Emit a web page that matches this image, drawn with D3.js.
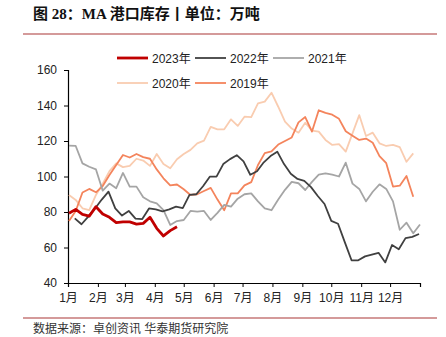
<!DOCTYPE html>
<html><head><meta charset="utf-8">
<script src="https://cdn.jsdelivr.net/npm/d3@7"></script>
<style>
html,body{margin:0;padding:0;background:#fff;}
svg{display:block;}
</style></head>
<body>
<svg id="c" width="446" height="337"></svg>
<script>
// ---- data ----
const seriesNames = ["2023年","2022年","2021年","2020年","2019年"];
const startDays = [1, 7, 1, 1, 1]; // day offset of first weekly observation
const v2023 = [79.3,81.5,78.7,77.7,83,78.9,77,74,74.4,74.4,73.2,73.6,77,70.8,66.5,69.5,71.7];
const v2022 = [76.4,73.1,77.4,82,87,91.5,82,78,80.6,76.3,76,82,81.5,80.4,81.5,83,82.2,89.6,90,94.5,99.9,99.9,107,109.8,112,108.5,101,103,108,111.5,114,107,101.5,98.6,97.5,94,89,84.5,75,73.4,63,52.8,52.8,55,56,57,51.6,61.4,59,65.3,66,67.6];
const v2021 = [117.4,117.2,107.4,105.5,104,92,96,93.4,102,94.3,94.3,88.3,86,84.9,81,72.7,74.9,75.5,80.6,80.2,80.6,75.5,79.5,84,83,87.5,90,90.5,86,82,81,87,92.5,97,96.2,92.4,97,101,101.8,101,100,107.8,96,93,86,91.4,95.6,93,86,70,74,68,73];
const v2020 = [89.6,86.8,82.1,81.1,89.6,96,103,107.4,105.3,106,110,109,106,112.7,107,104.6,109.7,112.7,115,118.7,120.2,128,126.6,126.6,132.2,128.5,133.7,133.4,141.2,142.2,147.2,139.3,130.9,127,124.7,130.3,125.8,125.3,120.6,117.8,118.2,114,124.3,134.6,122.8,124.7,118.7,117.2,117.8,116.5,108.3,113];
const v2019 = [74.9,80.6,91,93,91.1,94.6,100.8,106.5,112.1,110.7,112.7,110.9,110,104,99,95,95.5,92.8,89.6,90,91.8,93.6,87,81,90.5,90.5,95,96.8,106.5,113.2,114.2,118,120,122,130.5,133.5,125.3,137.3,135.8,134.8,132.5,125.5,123,120.6,121.4,119,111.5,107.5,94.3,94.8,100.3,88.6];
const seriesValues = [v2023, v2022, v2021, v2020, v2019];
const yTicks = [40,60,80,100,120,140,160];
const monthLabels = ["1月","2月","3月","4月","5月","6月","7月","8月","9月","10月","11月","12月"];
const titleText = "图 28：MA 港口库存丨单位：万吨";
const sourceText = "数据来源：卓创资讯  华泰期货研究院";

// ---- styles ----
const colors = ["#C00000","#404040","#A5A5A5","#F9CCB0","#F4845C"];
const widths = [2.8,1.8,1.8,1.8,1.8];
const drawOrder = [3,4,2,1,0];

const svg = d3.select("#c");
const font = "'Liberation Sans', Arial, 'Noto Sans CJK SC', sans-serif";

const margin = {left:68, right:26, top:70, bottom:54};
const W = 446, H = 337;
const refYear = 2019;
const x = d3.scaleTime()
  .domain([new Date(refYear,0,1), new Date(refYear+1,0,1)])
  .range([margin.left, W - margin.right]);
const y = d3.scaleLinear().domain([40,160]).range([H - margin.bottom, margin.top]);

// title
svg.append("text").attr("x",33).attr("y",19)
  .style("font-family","'Liberation Serif','Times New Roman','Noto Sans CJK SC',serif")
  .style("font-weight","bold").style("font-size","15px").attr("fill","#111")
  .text(titleText);
svg.append("line").attr("x1",23).attr("x2",437).attr("y1",34).attr("y2",34)
  .attr("stroke","#D49A9A").attr("stroke-width",2);
svg.append("line").attr("x1",23).attr("x2",437).attr("y1",318).attr("y2",318)
  .attr("stroke","#D49A9A").attr("stroke-width",2);
svg.append("text").attr("x",33).attr("y",333)
  .style("font-family",font).style("font-size","12px").attr("fill","#333")
  .text(sourceText);

// axes
const yAxis = d3.axisLeft(y).tickValues(yTicks).tickSize(4).tickPadding(7);
const gy = svg.append("g").attr("transform",`translate(${margin.left},0)`).call(yAxis);
gy.select(".domain").attr("stroke","#000").attr("stroke-width",1.2);
gy.selectAll(".tick line").attr("stroke","#000");
gy.selectAll("text").style("font-family",font).style("font-size","12px").attr("fill","#222");

const monthTicks = d3.range(0,13).map(m => new Date(refYear, m, 1));
const xAxis = d3.axisBottom(x).tickValues(monthTicks).tickSize(4).tickPadding(6)
  .tickFormat((d,i) => i < 12 ? monthLabels[i] : "");
const gx = svg.append("g").attr("transform",`translate(0,${H - margin.bottom})`).call(xAxis);
gx.select(".domain").attr("stroke","#000").attr("stroke-width",1.2);
gx.selectAll(".tick line").attr("stroke","#000");
gx.selectAll("text").style("font-family",font).style("font-size","12px").attr("fill","#222");

// lines
const line = d3.line().x(d => x(d.date)).y(d => y(d.v));
drawOrder.forEach(k => {
  const pts = seriesValues[k].map((v,i) => ({date: new Date(refYear,0,1+startDays[k]+7*i), v}));
  svg.append("path").datum(pts).attr("d",line).attr("fill","none")
    .attr("stroke",colors[k]).attr("stroke-width",widths[k]).attr("stroke-linejoin","round");
});

// legend
const legPos = [[117,58],[195,58],[273,58],[117,83],[195,83]];
seriesNames.forEach((n,k) => {
  const [lx,ly] = legPos[k];
  svg.append("line").attr("x1",lx).attr("x2",lx+31).attr("y1",ly).attr("y2",ly)
    .attr("stroke",colors[k]).attr("stroke-width",widths[k]);
  svg.append("text").attr("x",lx+35).attr("y",ly+4.5)
    .style("font-family",font).style("font-size","12px").attr("fill","#222").text(n);
});
</script>
</body></html>
